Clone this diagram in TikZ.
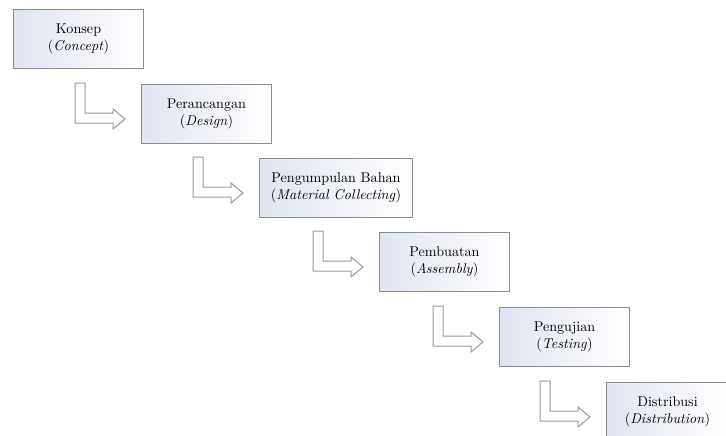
\documentclass[tikz,border=0pt]{standalone}
\usetikzlibrary{calc}
\definecolor{boxblue}{RGB}{224,229,240}

\begin{document}
\begin{tikzpicture}[
  x=0.75pt, y=-0.75pt,
  box/.style={draw=black!45, line width=0.75pt, left color=boxblue, right color=white,
    anchor=north west, minimum width=97.5pt, minimum height=44.25pt, inner sep=2pt,
    align=center, font=\fontsize{10.6}{13}\selectfont},
  larrow/.style={draw=black!40, fill=white, line width=0.75pt}
]
\clip (0,0) rectangle (726,436);
\node[box] (konsep) at (13,9) {Konsep\\(\textit{Concept})};
\node[box] (perancangan) at (141,84) {Perancangan\\(\textit{Design})};
\node[box, minimum width=114.75pt] (pengumpulan) at (259,158) {Pengumpulan Bahan\\(\textit{Material Collecting})};
\node[box] (pembuatan) at (379,232) {Pembuatan\\(\textit{Assembly})};
\node[box] (pengujian) at (499,307) {Pengujian\\(\textit{Testing})};
\node[box, minimum width=91.5pt] (distribusi) at (606,382) {Distribusi\\(\textit{Distribution})};
% bent block arrows, drawn from the top left corner of the next box
\draw[larrow] ($(perancangan.north west)+(-66,-1)$) -- ++(10,0) -- ++(0,30) -- ++(28,0) -- ++(0,-4) -- ++(12,10) -- ++(-12,10) -- ++(0,-6) -- ++(-38,0) -- cycle;
\draw[larrow] ($(pengumpulan.north west)+(-66,-1)$) -- ++(10,0) -- ++(0,30) -- ++(28,0) -- ++(0,-4) -- ++(12,10) -- ++(-12,10) -- ++(0,-6) -- ++(-38,0) -- cycle;
\draw[larrow] ($(pembuatan.north west)+(-66,-1)$) -- ++(10,0) -- ++(0,30) -- ++(28,0) -- ++(0,-4) -- ++(12,10) -- ++(-12,10) -- ++(0,-6) -- ++(-38,0) -- cycle;
\draw[larrow] ($(pengujian.north west)+(-66,-1)$) -- ++(10,0) -- ++(0,30) -- ++(28,0) -- ++(0,-4) -- ++(12,10) -- ++(-12,10) -- ++(0,-6) -- ++(-38,0) -- cycle;
\draw[larrow] ($(distribusi.north west)+(-66,-1)$) -- ++(10,0) -- ++(0,30) -- ++(28,0) -- ++(0,-4) -- ++(12,10) -- ++(-12,10) -- ++(0,-6) -- ++(-38,0) -- cycle;
\end{tikzpicture}
\end{document}
